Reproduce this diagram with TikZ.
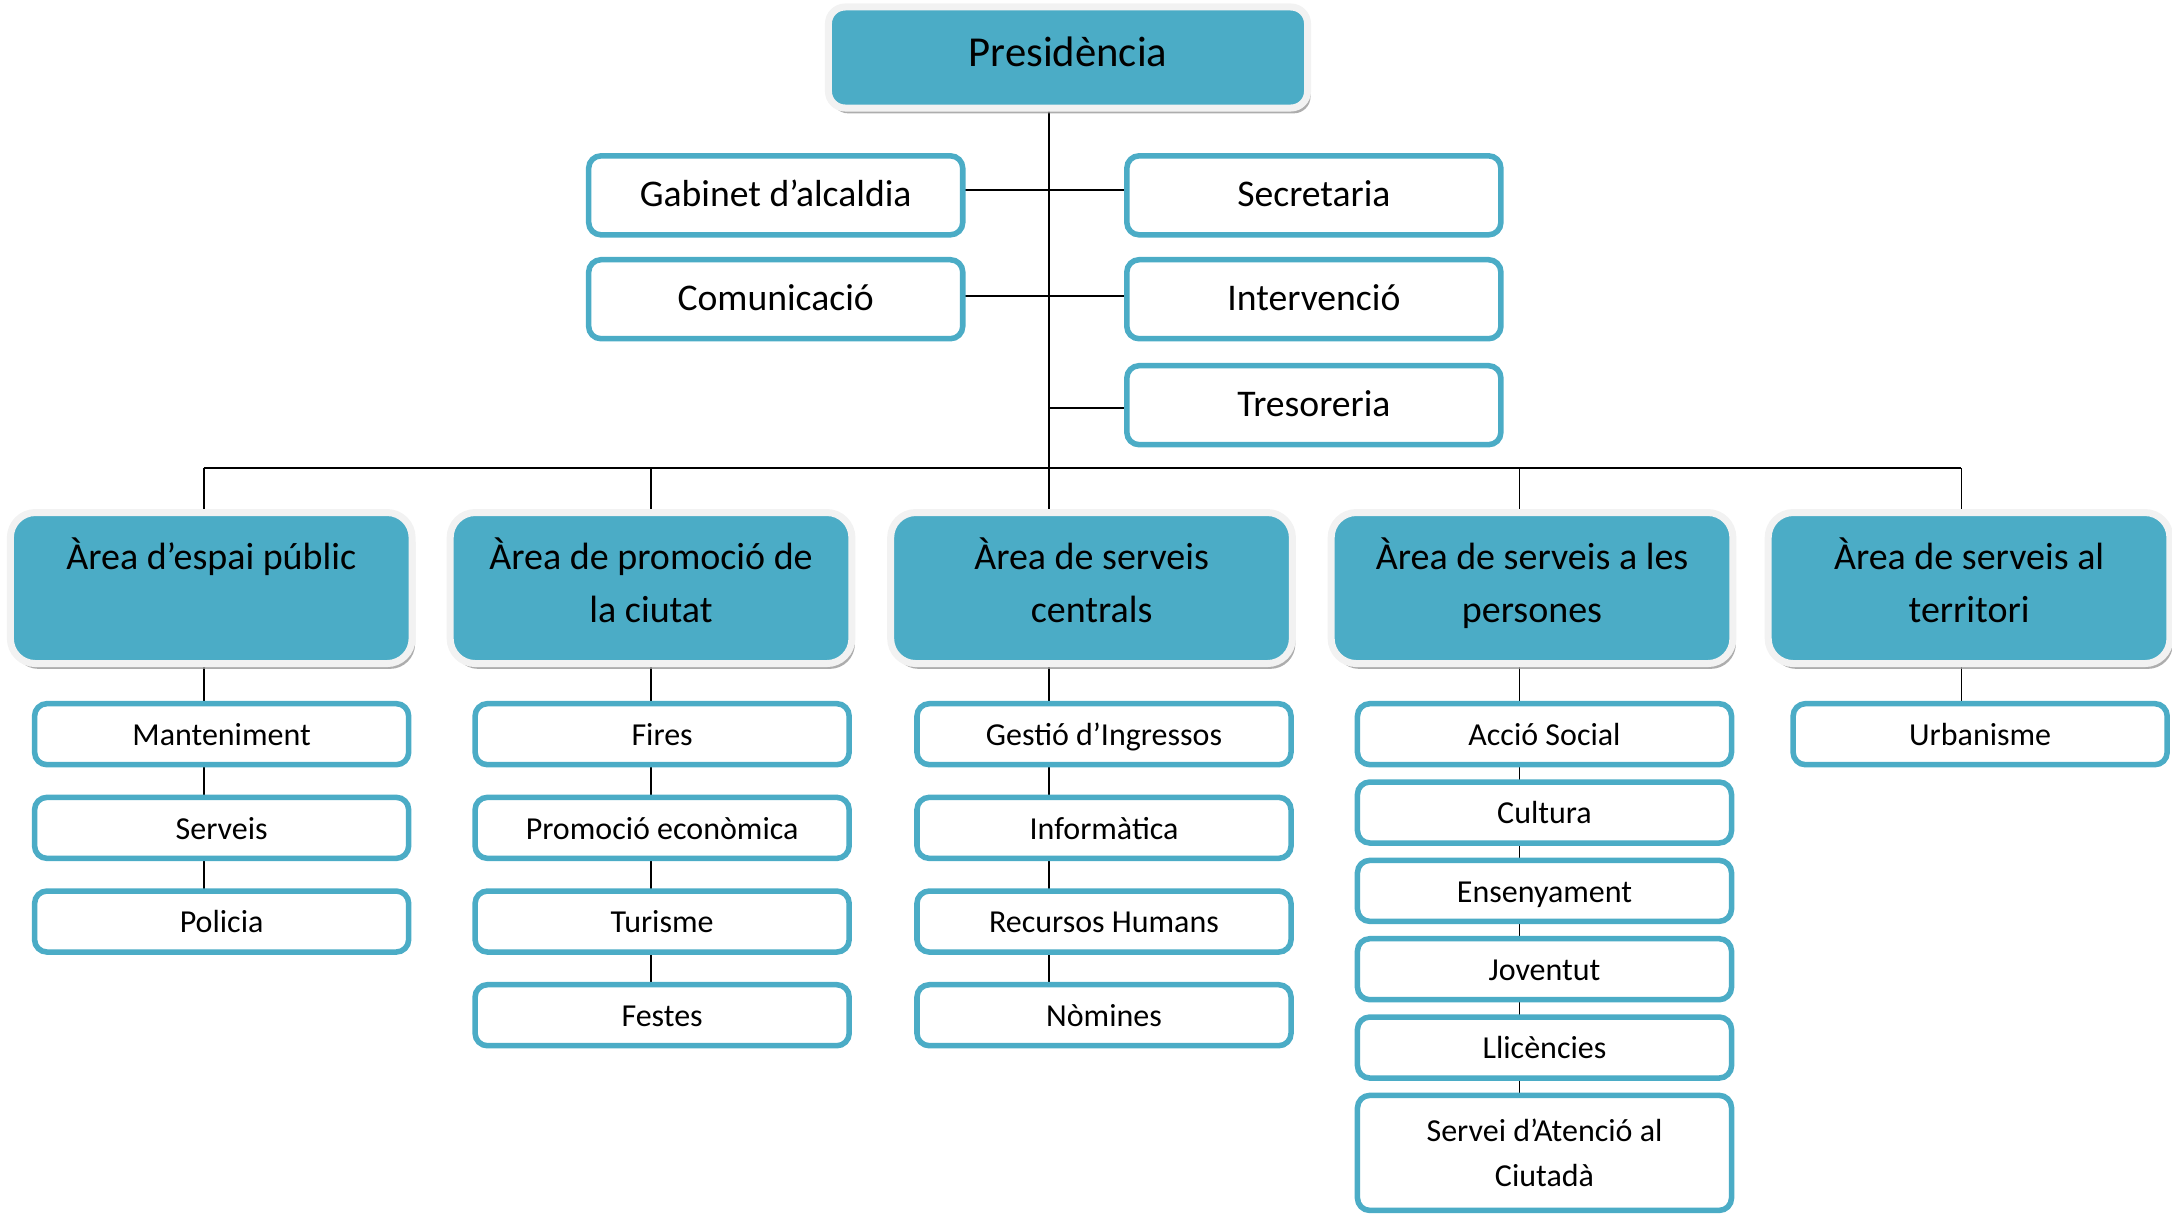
\documentclass[tikz,border=0pt]{standalone}
\usepackage{fontspec}
\setmainfont{Carlito}
\usetikzlibrary{positioning,shadows,backgrounds}

\definecolor{teal5}{HTML}{4BACC6}
\definecolor{rim}{HTML}{F2F2F2}
\newcommand{\pu}{0.4155pt}

\begin{document}
\begin{tikzpicture}[x=\pu, y=-\pu,
  head/.style={rounded corners=5pt, fill=teal5, draw=rim, line width=2.1pt,
    minimum width=143.7pt, minimum height=30.3pt, inner sep=0pt, outer sep=0pt,
    text height=9pt, text depth=3.5pt, font=\fontsize{12.8}{15}\selectfont,
    drop shadow={shadow xshift=0.9pt, shadow yshift=-1.6pt, fill=black!40, opacity=0.8}},
  area/.style={head, rounded corners=7.5pt, minimum width=120.5pt, minimum height=45.3pt,
    align=center, text height=, text depth=4.8pt, font=\fontsize{11.4}{15.8}\selectfont},
  staff/.style={rounded corners=3.7pt, draw=teal5, fill=white, line width=1.66pt,
    minimum width=112.2pt, minimum height=23.7pt, inner sep=0pt, outer sep=0pt,
    text height=0.9em, text depth=0.22em, font=\fontsize{11.3}{13}\selectfont},
  unit/.style={staff, minimum height=18.3pt, font=\fontsize{9.6}{13.3}\selectfont},
  link/.style={draw=black, line width=0.55pt},
  node distance=9.8pt
]
\useasboundingbox (0,0) rectangle (1568,876);

% presidencia
\node[head] (pres) at (771,41.5) {Presidència};
\node[staff] (gab) at (560,141) {Gabinet d’alcaldia};
\node[staff] (sec) at (948.5,141) {Secretaria};
\node[staff] (com) at (560,216) {Comunicació};
\node[staff] (int) at (948.5,216) {Intervenció};
\node[staff] (tre) at (948.5,292.5) {Tresoreria};

% arees
\node[area] (espai) at (152.5,424.5) {Àrea d’espai públic\\\mbox{}};
\node[area] (promo) at (470,424.5) {Àrea de promoció de\\la ciutat};
\node[area] (centr) at (788,424.5) {Àrea de serveis\\centrals};
\node[area] (perso) at (1106,424.5) {Àrea de serveis a les\\persones};
\node[area] (terri) at (1421.5,424.5) {Àrea de serveis al\\territori};

% serveis
\node[unit] (mant) at (160,530) {Manteniment};
\node[unit] (serv) [below=of mant] {Serveis};
\node[unit] (poli) [below=of serv] {Policia};

\node[unit] (fire) at (478,530) {Fires};
\node[unit] (peco) [below=of fire] {Promoció econòmica};
\node[unit] (turi) [below=of peco] {Turisme};
\node[unit] (fest) [below=of turi] {Festes};

\node[unit] (ingr) at (797,530) {Gestió d’Ingressos};
\node[unit] (info) [below=of ingr] {Informàtica};
\node[unit] (rrhh) [below=of info] {Recursos Humans};
\node[unit] (nomi) [below=of rrhh] {Nòmines};

\begin{scope}[node distance=5.2pt]
\node[unit] (asoc) at (1115,530) {Acció Social};
\node[unit] (cult) [below=of asoc] {Cultura};
\node[unit] (ense) [below=of cult] {Ensenyament};
\node[unit] (jove) [below=of ense] {Joventut};
\node[unit] (llic) [below=of jove] {Llicències};
\node[unit, minimum height=34.5pt, align=center, text height=, text depth=] (sac) [below=of llic] {Servei d’Atenció al\\Ciutadà};
\end{scope}

\node[unit] (urba) at (1429.5,530) {Urbanisme};

% linies
\coordinate (x1) at (147,338);
\coordinate (x2) at (470,338);
\coordinate (x3) at (757,338);
\coordinate (x4) at (1097,338);
\coordinate (x5) at (1416,338);

\begin{scope}[on background layer]
  \path[link] (pres.south -| x3) edge (centr.north -| x3);
  \path[link] ([yshift=1.6pt]gab.east) edge ([yshift=1.6pt]sec.west);
  \path[link] ([yshift=1pt]com.east) edge ([yshift=1pt]int.west);
  \path[link] ([yshift=-0.8pt]tre.west -| x3) edge ([yshift=-0.8pt]tre.west);
  \path[link] (x1) edge (x5);
  \path[link] (x1) edge (espai.north -| x1);
  \path[link] (x2) edge (promo.north -| x2);
  \path[link] (x4) edge (perso.north -| x4);
  \path[link] (x5) edge (terri.north -| x5);
  \path[link] (espai.south -| x1) edge (poli.north -| x1);
  \path[link] (promo.south -| x2) edge (fest.north -| x2);
  \path[link] (centr.south -| x3) edge (nomi.north -| x3);
  \path[link] (perso.south -| x4) edge (sac.north -| x4);
  \path[link] (terri.south -| x5) edge (urba.north -| x5);
\end{scope}

\end{tikzpicture}
\end{document}
